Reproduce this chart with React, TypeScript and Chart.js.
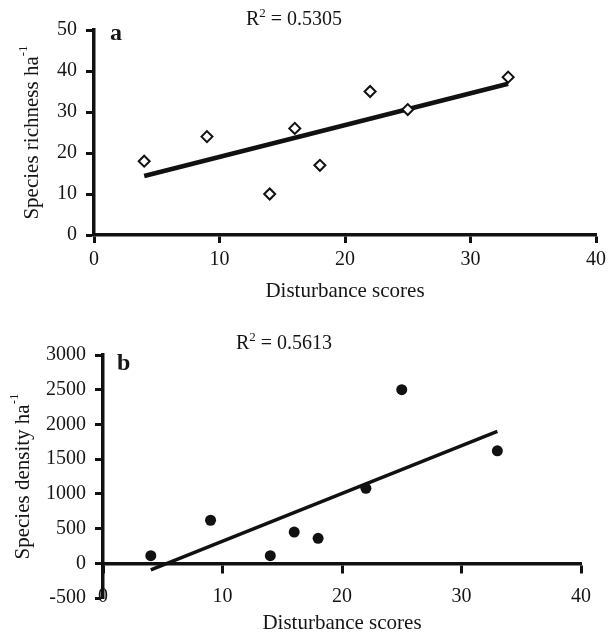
import React, { useEffect, useRef } from 'react';
import { Chart, registerables } from 'chart.js';

Chart.register(...registerables);

// ---- data ----
const disturbanceA = [4, 9, 14, 16, 18, 22, 25, 33];
const richness = [18, 24, 10, 26, 17, 35, 30.6, 38.5];
const trendAX = [4, 33];
const trendAY = [14.4, 36.9];

const disturbanceB = [4, 9, 14, 16, 18, 22, 25, 33];
const density = [110, 620, 110, 450, 360, 1080, 2500, 1620];
const trendBX = [4, 33];
const trendBY = [-95, 1900];

const xTicks = [0, 10, 20, 30, 40];
const yTicksA = [0, 10, 20, 30, 40, 50];
const yTicksB = [-500, 0, 500, 1000, 1500, 2000, 2500, 3000];

const r2A = '0.5305';
const r2B = '0.5613';
const xTitle = 'Disturbance scores';
const yTitleA = 'Species richness ha';
const yTitleB = 'Species density ha';
const yTitleSup = '-1';

const FAMILY = "'Liberation Serif', 'Times New Roman', serif";
const TEXT = '#151515';
const INK = '#111';

type TextOpts = {
  r2: string; r2X: number; r2Y: number;
  letter: string; letterX: number; letterY: number;
  xTitleY: number; yTitle: string; yTitleX: number;
};

function makeTextPlugin(o: TextOpts) {
  return {
    id: 'annotTexts',
    afterDraw(chart: any) {
      const { ctx, chartArea } = chart;
      ctx.save();
      ctx.fillStyle = TEXT;
      ctx.textBaseline = 'alphabetic';
      ctx.textAlign = 'left';
      // R²
      let x = o.r2X;
      ctx.font = `20px ${FAMILY}`;
      ctx.fillText('R', x, o.r2Y);
      x += ctx.measureText('R').width;
      ctx.font = `13px ${FAMILY}`;
      ctx.fillText('2', x, o.r2Y - 8);
      x += ctx.measureText('2').width;
      ctx.font = `20px ${FAMILY}`;
      ctx.fillText(' = ' + o.r2, x, o.r2Y);
      // panel letter
      ctx.font = `bold 24px ${FAMILY}`;
      ctx.fillText(o.letter, o.letterX, o.letterY);
      // x title
      ctx.font = `21px ${FAMILY}`;
      ctx.textAlign = 'center';
      ctx.fillText(xTitle, (chartArea.left + chartArea.right) / 2, o.xTitleY);
      // y title (rotated, with superscript)
      ctx.translate(o.yTitleX, (chartArea.top + chartArea.bottom) / 2);
      ctx.rotate(-Math.PI / 2);
      ctx.textAlign = 'left';
      ctx.textBaseline = 'middle';
      ctx.font = `21px ${FAMILY}`;
      const w1 = ctx.measureText(o.yTitle).width;
      ctx.font = `13px ${FAMILY}`;
      const w2 = ctx.measureText(yTitleSup).width;
      const start = -(w1 + w2) / 2;
      ctx.font = `21px ${FAMILY}`;
      ctx.fillText(o.yTitle, start, 0);
      ctx.font = `13px ${FAMILY}`;
      ctx.fillText(yTitleSup, start + w1, -8);
      ctx.restore();
    },
  };
}

function axisCommon(tickValues: number[], padding: number) {
  return {
    type: 'linear' as const,
    min: tickValues[0],
    max: tickValues[tickValues.length - 1],
    afterBuildTicks: (s: any) => {
      s.ticks = tickValues.map((v) => ({ value: v }));
    },
    grid: {
      display: true,
      drawOnChartArea: false,
      drawTicks: true,
      tickLength: 8,
      tickWidth: 3,
      tickColor: INK,
    },
    border: { display: true, color: INK, width: 3.5 },
    ticks: {
      font: { family: FAMILY, size: 20 },
      color: TEXT,
      padding,
      autoSkip: false,
      maxRotation: 0,
      callback: (v: any) => String(v),
    },
  };
}

export default function App() {
  const refA = useRef<HTMLCanvasElement | null>(null);
  const refB = useRef<HTMLCanvasElement | null>(null);

  useEffect(() => {
    const chartA = new Chart(refA.current as HTMLCanvasElement, {
      type: 'scatter',
      data: {
        datasets: [
          {
            type: 'line',
            data: trendAX.map((x, i) => ({ x, y: trendAY[i] })),
            borderColor: INK,
            borderWidth: 4.5,
            pointRadius: 0,
            fill: false,
            order: 1,
          } as any,
          {
            data: disturbanceA.map((x, i) => ({ x, y: richness[i] })),
            pointStyle: 'rectRot',
            pointRadius: 5.5,
            pointBorderWidth: 2,
            borderColor: INK,
            backgroundColor: '#fff',
            order: 0,
          },
        ],
      },
      options: {
        responsive: false,
        animation: false,
        devicePixelRatio: 1,
        layout: { padding: { left: 0, right: 17, top: 30, bottom: 0 } },
        plugins: { legend: { display: false }, tooltip: { enabled: false } },
        scales: {
          x: {
            ...axisCommon(xTicks, 5),
            position: 'bottom',
            afterFit: (s: any) => { s.height = 81; },
          },
          y: {
            ...axisCommon(yTicksA, 9),
            position: 'left',
            afterFit: (s: any) => { s.width = 94; },
          },
        },
      } as any,
      plugins: [
        makeTextPlugin({
          r2: r2A, r2X: 246, r2Y: 25,
          letter: 'a', letterX: 110, letterY: 40,
          xTitleY: 297, yTitle: yTitleA, yTitleX: 32,
        }),
      ],
    });

    const chartB = new Chart(refB.current as HTMLCanvasElement, {
      type: 'scatter',
      data: {
        datasets: [
          {
            type: 'line',
            data: trendBX.map((x, i) => ({ x, y: trendBY[i] })),
            borderColor: INK,
            borderWidth: 3.5,
            pointRadius: 0,
            fill: false,
            order: 1,
          } as any,
          {
            data: disturbanceB.map((x, i) => ({ x, y: density[i] })),
            pointStyle: 'circle',
            pointRadius: 5.5,
            pointBorderWidth: 0,
            borderColor: INK,
            backgroundColor: INK,
            order: 0,
          },
        ],
      },
      options: {
        responsive: false,
        animation: false,
        devicePixelRatio: 1,
        layout: { padding: { left: 0, right: 32, top: 39, bottom: 35 } },
        plugins: { legend: { display: false }, tooltip: { enabled: false } },
        scales: {
          x: {
            ...axisCommon(xTicks, 13),
            position: { y: 0 },
            afterFit: (s: any) => { s.height = 0; },
          },
          y: {
            ...axisCommon(yTicksB, 9),
            position: 'left',
            afterFit: (s: any) => { s.width = 103; },
          },
        },
      } as any,
      plugins: [
        makeTextPlugin({
          r2: r2B, r2X: 236, r2Y: 33,
          letter: 'b', letterX: 117, letterY: 54,
          xTitleY: 313, yTitle: yTitleB, yTitleX: 23,
        }),
      ],
    });

    return () => {
      chartA.destroy();
      chartB.destroy();
    };
  }, []);

  return (
    <div style={{ position: 'absolute', left: 0, top: 0, width: 613, height: 633, background: '#fff' }}>
      <canvas
        ref={refA}
        width={613}
        height={316}
        style={{ position: 'absolute', left: 0, top: 0, width: 613, height: 316 }}
      />
      <canvas
        ref={refB}
        width={613}
        height={317}
        style={{ position: 'absolute', left: 0, top: 316, width: 613, height: 317 }}
      />
    </div>
  );
}
